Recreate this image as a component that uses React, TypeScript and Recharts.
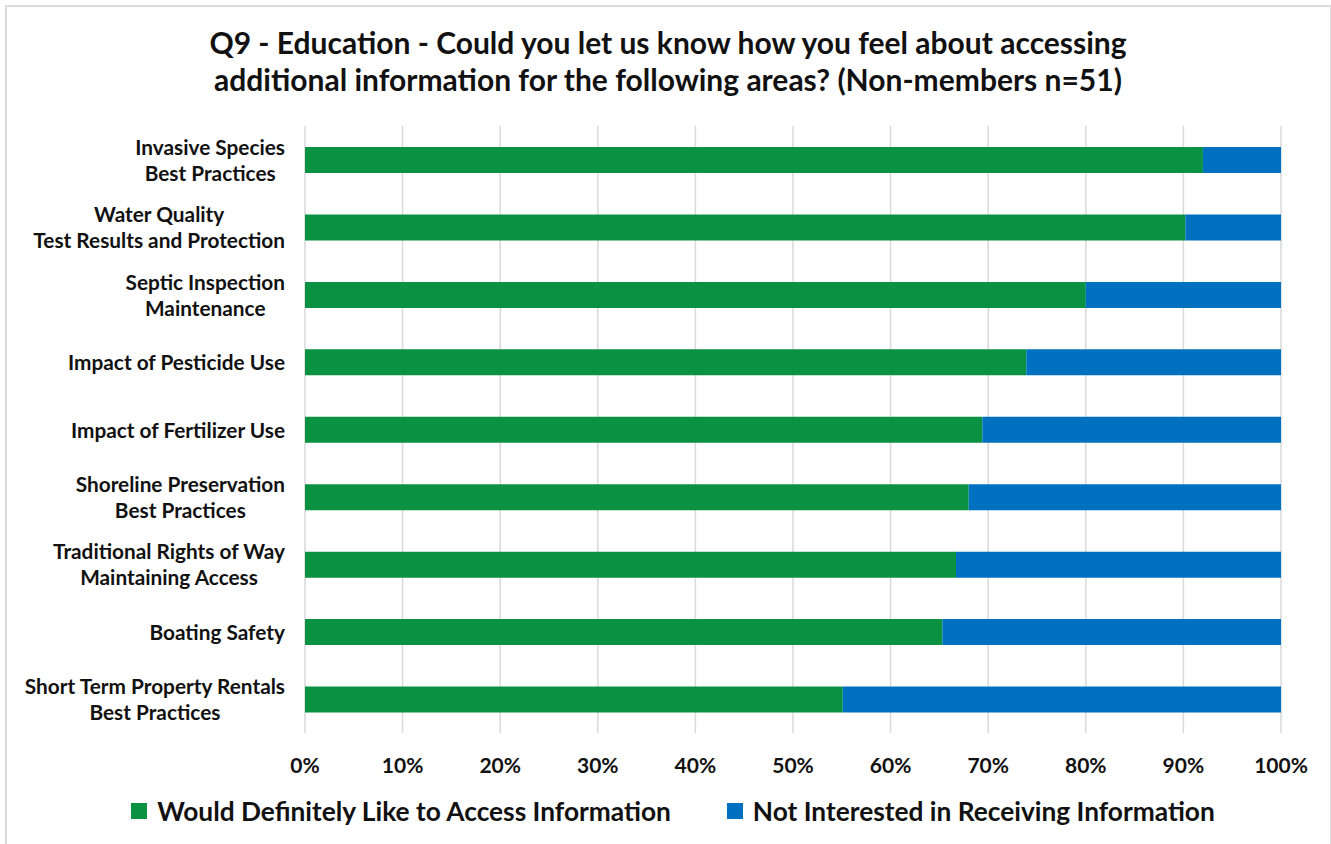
import { BarChart, Bar, XAxis, YAxis, CartesianGrid } from 'recharts';

const categories = [
  'Invasive Species\nBest Practices',
  'Water Quality\nTest Results and Protection',
  'Septic Inspection\nMaintenance',
  'Impact of Pesticide Use',
  'Impact of Fertilizer Use',
  'Shoreline Preservation\nBest Practices',
  'Traditional Rights of Way\nMaintaining Access',
  'Boating Safety',
  'Short Term Property Rentals\nBest Practices',
];
const wouldLike = [92, 90.2, 80, 73.9, 69.4, 68, 66.7, 65.3, 55.1];
const notInterested = [8, 9.8, 20, 26.1, 30.6, 32, 33.3, 34.7, 44.9];
const xTicks = [0, 10, 20, 30, 40, 50, 60, 70, 80, 90, 100];

const SERIES = [
  { key: 'wouldLike', name: 'Would Definitely Like to Access Information', color: '#0A9142' },
  { key: 'notInterested', name: 'Not Interested in Receiving Information', color: '#0070C0' },
];

const FONT = 'Lato, "Open Sans", sans-serif';
const TEXT = '#111';

const data = categories.map((c, i) => ({
  category: c,
  wouldLike: wouldLike[i],
  notInterested: notInterested[i],
}));

function CategoryTick({ x, y, payload }: any) {
  const lines = String(payload.value).split('\n');
  const w = 290;
  const right = x - 12;
  return (
    <foreignObject x={right - w} y={y - 30} width={w} height={60}>
      <div style={{ height: 60, display: 'flex', alignItems: 'center', justifyContent: 'flex-end' }}>
        <div style={{ textAlign: 'center', fontFamily: FONT, fontWeight: 700, fontSize: 20.8, lineHeight: '26px', color: TEXT, whiteSpace: 'nowrap' }}>
          {lines.map((l, i) => <div key={i}>{l}</div>)}
        </div>
      </div>
    </foreignObject>
  );
}

// legend drawn as html below the plot
function LegendBox() {
  return (
    <div style={{ position: 'absolute', top: 795, left: 0, width: 1346, display: 'flex', justifyContent: 'center', alignItems: 'center', gap: 56, fontFamily: FONT, fontWeight: 700, fontSize: 26.3, color: TEXT }}>
      {SERIES.map(s => (
        <div key={s.key} style={{ display: 'flex', alignItems: 'center' }}>
          <span style={{ display: 'inline-block', width: 16, height: 16, background: s.color, marginRight: 10 }} />
          <span>{s.name}</span>
        </div>
      ))}
    </div>
  );
}

export default function App() {
  return (
    <div style={{ position: 'absolute', left: 0, top: 0, width: 1331, height: 844, background: '#fff', overflow: 'hidden' }}>
      <div style={{ position: 'absolute', left: 5, top: 5, width: 1323, height: 850, border: '2px solid #DCDCDC' }} />
      <div style={{ position: 'absolute', left: 0, top: 24, width: 1336, textAlign: 'center', fontFamily: FONT, fontWeight: 700, fontSize: 30, lineHeight: '37px', color: TEXT }}>
        <div>Q9 - Education - Could you let us know how you feel about accessing</div>
        <div>additional information for the following areas? (Non-members n=51)</div>
      </div>
      <div style={{ position: 'absolute', left: 0, top: 0 }}>
        <BarChart
          width={1331}
          height={844}
          data={data}
          layout="vertical"
          barSize={26}
          margin={{ top: 126, right: 50, bottom: 81, left: 15 }}
        >
          <CartesianGrid horizontal={false} vertical={true} stroke="#D9D9D9" strokeWidth={1.5} />
          <XAxis
            type="number"
            domain={[0, 100]}
            ticks={xTicks}
            tickFormatter={(v: number) => `${v}%`}
            axisLine={false}
            tickLine={false}
            tickMargin={19}
            height={30}
            interval={0}
            tick={{ fontFamily: FONT, fontWeight: 700, fontSize: 21, fill: TEXT }}
          />
          <YAxis
            type="category"
            dataKey="category"
            width={290}
            axisLine={false}
            tickLine={false}
            interval={0}
            tick={<CategoryTick />}
          />
          {SERIES.map(s => (
            <Bar key={s.key} dataKey={s.key} name={s.name} stackId="a" fill={s.color} isAnimationActive={false} />
          ))}
        </BarChart>
      </div>
      <LegendBox />
    </div>
  );
}
